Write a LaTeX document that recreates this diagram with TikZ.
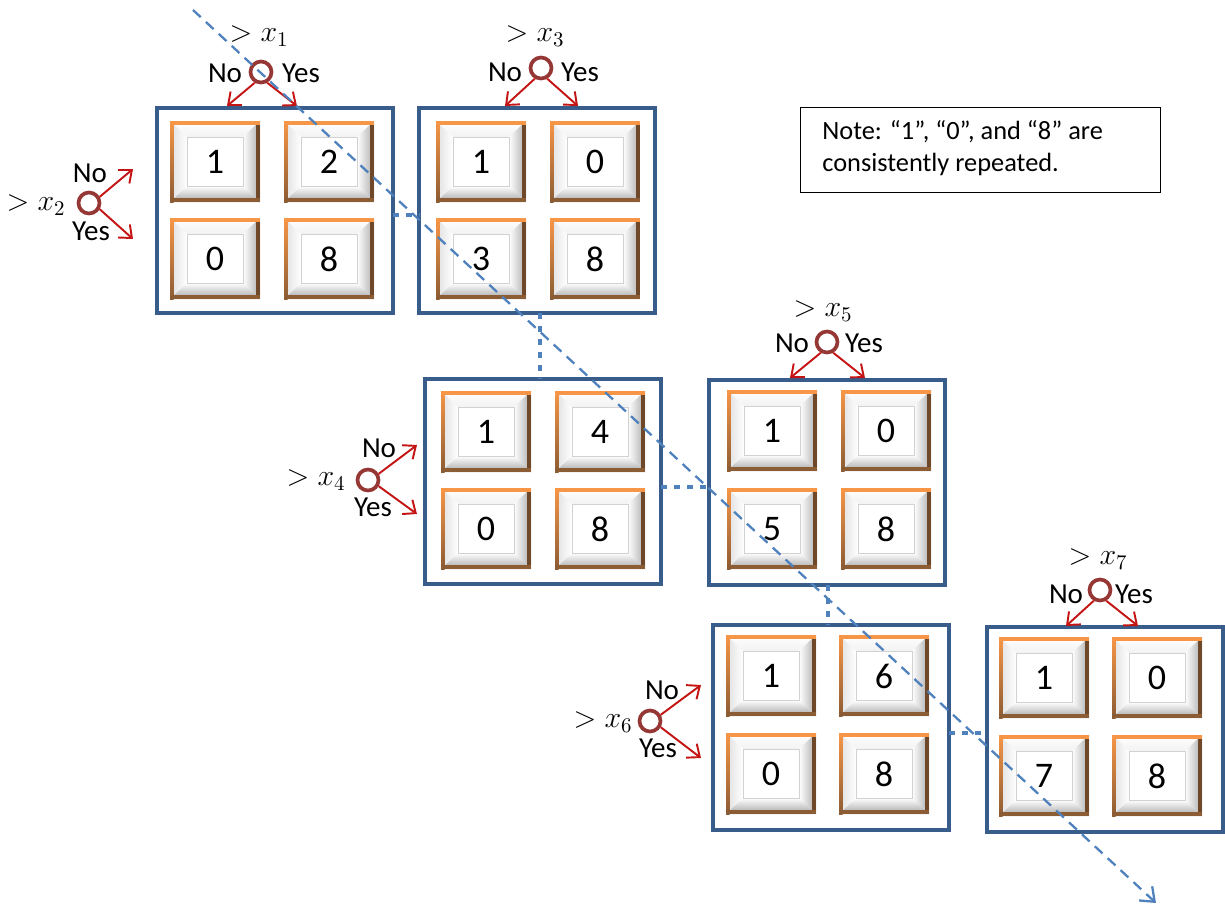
\documentclass[tikz,border=0pt]{standalone}
\usepackage{fix-cm}
\usepackage{fontspec}
\setmainfont{Carlito}
\usetikzlibrary{arrows.meta,calc}
\definecolor{boxblue}{RGB}{56,93,138}
\definecolor{lineblue}{RGB}{79,129,189}
\definecolor{redarr}{RGB}{196,20,20}
\definecolor{circred}{RGB}{149,55,53}
\definecolor{bvorange}{RGB}{247,150,70}
\definecolor{bvorangeb}{RGB}{214,130,60}
\definecolor{bvbrown}{RGB}{110,72,40}
\definecolor{bvbrownb}{RGB}{140,92,52}
\tikzset{
  bigbox/.style={draw=boxblue, line width=2.1pt, fill=white, minimum width=4.72cm, minimum height=4.1cm, inner sep=0pt, outer sep=0pt},
  digit/.style={font=\fontsize{20.5}{23}\selectfont, inner sep=0pt},
  yn/.style={font=\fontsize{16.5}{19}\selectfont, inner sep=0pt},
  mlab/.style={font=\fontsize{17}{20}\selectfont, inner sep=0pt},
  decision/.style={circle, draw=circred, line width=2.1pt, minimum size=0.42cm, inner sep=0pt},
  redarrow/.style={draw=redarr, line width=1.1pt, -{Straight Barb[length=6pt,width=10pt]}},
  dotconn/.style={draw=lineblue, line width=2.8pt, dash pattern=on 3.2pt off 4.2pt},
  diagline/.style={draw=lineblue, line width=1.3pt, dash pattern=on 6pt off 4pt, -{Straight Barb[length=7pt,width=11pt]}},
  notebox/.style={draw=black, line width=0.85pt, fill=white, minimum width=7.2cm, minimum height=1.7cm, inner sep=0pt, anchor=north west},
  notetext/.style={font=\fontsize{15}{17}\selectfont, inner sep=0pt, anchor=base west}
}
\newcommand\bvcell[4]{%
  \begin{scope}[shift={(#2,#3)}]
    \fill[white] (0,0) rectangle (90,81);
    \shade[top color=white, bottom color=gray!10] (0,0) -- (90,0) -- (73,16) -- (17,16) -- cycle;
    \shade[left color=gray!25, right color=white] (0,0) -- (17,16) -- (17,65) -- (0,81) -- cycle;
    \shade[left color=white, right color=gray!65] (90,0) -- (90,81) -- (73,65) -- (73,16) -- cycle;
    \shade[top color=white, bottom color=gray!70] (0,81) -- (17,65) -- (73,65) -- (90,81) -- cycle;
    \fill[white] (17,16) rectangle (73,65);
    \draw[gray!35, line width=0.4pt] (17,16) rectangle (73,65);
    \shade[top color=bvorange, bottom color=bvbrownb] (0,0) rectangle (3.5,81);
    \fill[bvbrown] (86,0) rectangle (90,81);
    \fill[bvbrownb] (0,77) rectangle (90,81);
    \fill[bvorange] (0,0) rectangle (90,3.5);
    \node[digit] (#1) at (45,41) {#4};
  \end{scope}%
}
\begin{document}
\begin{tikzpicture}[x=0.02cm, y=-0.02cm]
\useasboundingbox (0,0) rectangle (1225,907);

% boxes
\node[bigbox] (A) at (275,210.5) {};
\node[bigbox] (B) at (537,210.5) {};
\node[bigbox] (C) at (543,481.5) {};
\node[bigbox] (D) at (827,482.5) {};
\node[bigbox] (E) at (831,727.5) {};
\node[bigbox] (F) at (1105,729.5) {};

% cells
\bvcell{A1}{170}{121}{1}\bvcell{A2}{284}{121}{2}\bvcell{A3}{170}{218}{0}\bvcell{A4}{284}{218}{8}
\bvcell{B1}{436}{121}{1}\bvcell{B2}{550}{121}{0}\bvcell{B3}{436}{218}{3}\bvcell{B4}{550}{218}{8}
\bvcell{C1}{441}{391}{1}\bvcell{C2}{555}{391}{4}\bvcell{C3}{441}{488}{0}\bvcell{C4}{555}{488}{8}
\bvcell{D1}{727}{390}{1}\bvcell{D2}{841}{390}{0}\bvcell{D3}{727}{488}{5}\bvcell{D4}{841}{488}{8}
\bvcell{E1}{726}{635}{1}\bvcell{E2}{839}{635}{6}\bvcell{E3}{726}{733}{0}\bvcell{E4}{839}{733}{8}
\bvcell{F1}{999}{637}{1}\bvcell{F2}{1112}{637}{0}\bvcell{F3}{999}{735}{7}\bvcell{F4}{1112}{735}{8}

% dotted connectors between boxes
\draw[dotconn] ([yshift=-0.09cm]A.east) -- ([yshift=-0.09cm]A.east -| B.west);
\draw[dotconn] ([xshift=0.06cm]B.south) -- ([xshift=0.06cm]B.south |- C.north);
\draw[dotconn] ([yshift=-0.11cm]C.east) -- ([yshift=-0.11cm]C.east -| D.west);
\draw[dotconn] ([xshift=0.02cm]D.south) -- ([xshift=0.02cm]D.south |- E.north);
\draw[dotconn] ([yshift=-0.11cm]E.east) -- ([yshift=-0.11cm]E.east -| F.west);

% top decision groups (x1, x3, x5, x7)
\node[mlab] (l1) at (259,36) {$>x_1$};
\node[decision] (c1) at (261,72) {};
\node[yn] (no1) at (225,73) {No};
\node[yn] (yes1) at (301,73) {Yes};
\coordinate (t1n) at (227,106); \coordinate (t1y) at (297,106);
\draw[redarrow] (c1.240) -- (t1n);
\draw[redarrow] (c1.300) -- (t1y);

\node[mlab] (l3) at (535,36) {$>x_3$};
\node[decision] (c3) at (541,68) {};
\node[yn] (no3) at (505,72) {No};
\node[yn] (yes3) at (580,72) {Yes};
\coordinate (t3n) at (505,106); \coordinate (t3y) at (578,106);
\draw[redarrow] (c3.240) -- (t3n);
\draw[redarrow] (c3.300) -- (t3y);

\node[mlab] (l5) at (823,311) {$>x_5$};
\node[decision] (c5) at (827,342) {};
\node[yn] (no5) at (792,343) {No};
\node[yn] (yes5) at (864,343) {Yes};
\coordinate (t5n) at (790,378); \coordinate (t5y) at (865,378);
\draw[redarrow] (c5.240) -- (t5n);
\draw[redarrow] (c5.300) -- (t5y);

\node[mlab] (l7) at (1098,559) {$>x_7$};
\node[decision] (c7) at (1100,590) {};
\node[yn] (no7) at (1066,594) {No};
\node[yn] (yes7) at (1134,594) {Yes};
\coordinate (t7n) at (1066,626); \coordinate (t7y) at (1138,626);
\draw[redarrow] (c7.240) -- (t7n);
\draw[redarrow] (c7.300) -- (t7y);

% side decision groups (x2, x4, x6)
\node[mlab] (l2) at (36,205) {$>x_2$};
\node[decision] (c2) at (89,203) {};
\node[yn] (no2) at (90,173) {No};
\node[yn] (yes2) at (91,231) {Yes};
\coordinate (t2n) at (133,169); \coordinate (t2y) at (133,239);
\draw[redarrow] (c2.30) -- (t2n);
\draw[redarrow] (c2.-30) -- (t2y);

\node[mlab] (l4) at (316,480) {$>x_4$};
\node[decision] (c4) at (368,480) {};
\node[yn] (no4) at (379,448) {No};
\node[yn] (yes4) at (373,507) {Yes};
\coordinate (t4n) at (417,445); \coordinate (t4y) at (417,514);
\draw[redarrow] (c4.30) -- (t4n);
\draw[redarrow] (c4.-30) -- (t4y);

\node[mlab] (l6) at (603,722) {$>x_6$};
\node[decision] (c6) at (650,721) {};
\node[yn] (no6) at (662,690) {No};
\node[yn] (yes6) at (658,748) {Yes};
\coordinate (t6n) at (701,685); \coordinate (t6y) at (701,758);
\draw[redarrow] (c6.30) -- (t6n);
\draw[redarrow] (c6.-30) -- (t6y);

% note
\node[notebox] (note) at (800,107) {};
\node[notetext] (n1) at (822,139) {Note: “1”, “0”, and “8” are};
\node[notetext] (n2) at (822,171) {consistently repeated.};

% diagonal dashed arrow
\coordinate (ds) at (193,10);
\coordinate (de) at (1156,903);
\draw[diagline] (ds) -- (de);
\end{tikzpicture}
\end{document}
